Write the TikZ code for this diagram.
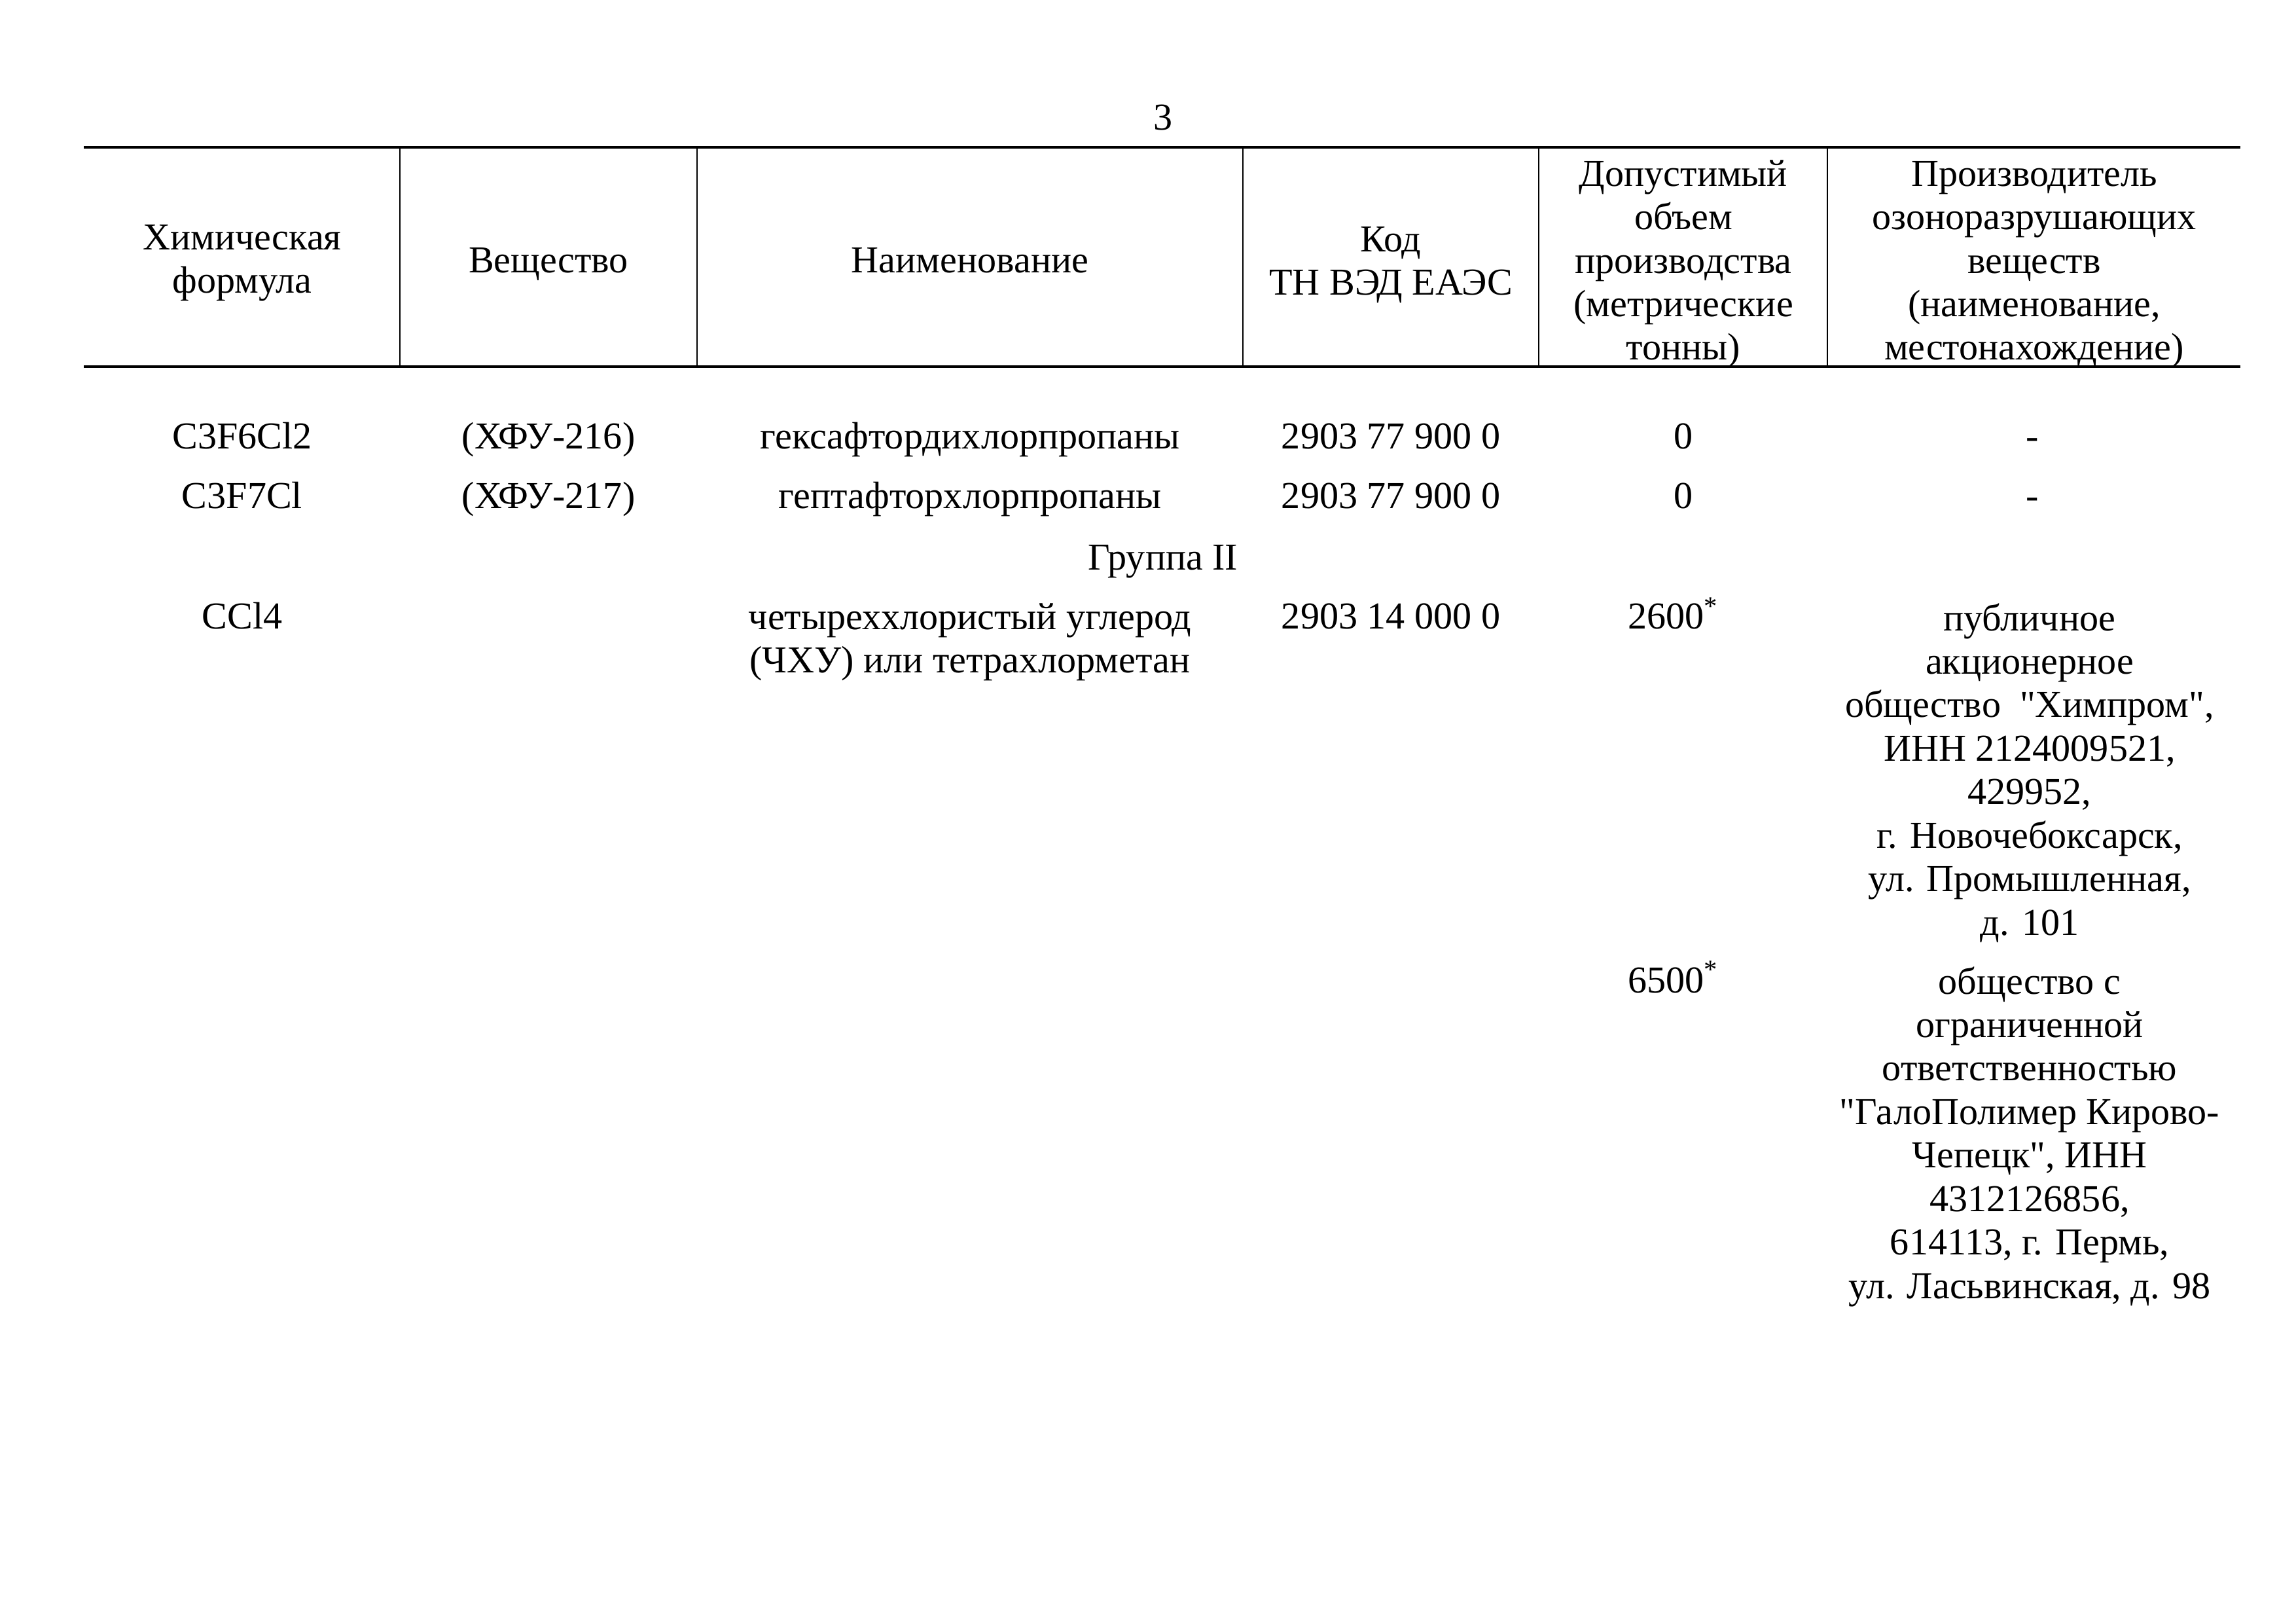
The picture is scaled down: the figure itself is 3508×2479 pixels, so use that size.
\documentclass[tikz,border=0pt]{standalone}
\usepackage{fontspec}
\setmainfont{Liberation Serif}[Ligatures=TeXOff]
\tikzstyle{cell} = [inner sep=0pt, anchor=base, align=center,
    font=\fontsize{14pt}{16pt}\selectfont]
\tikzstyle{rule} = [line width=0.8pt]
\tikzstyle{sep} = [line width=0.5pt]

\begin{document}
\begin{tikzpicture}[x=0.084667mm,y=-0.084667mm]
  \useasboundingbox (0,0) rectangle (3508,2479);

  \node[cell] (page) at (1777,199) {3};

  % table head (multi-line cells sit on the baseline of their last line)
  \draw[rule] (128,225) -- (3423,225);
  \draw[rule] (128,560) -- (3423,560);
  \foreach \x in {611,1065,1899,2351,2792}
    \draw[sep] (\x,225) -- (\x,560);

  \node[cell] (hform) at (370,448) {Химическая\\формула};
  \node[cell] (hsub) at (838,417) {Вещество};
  \node[cell] (hname) at (1482,417) {Наименование};
  \node[cell] (hcode) at (2125,451) {Код\\ТН ВЭД ЕАЭС};
  \node[cell] (hvol) at (2572,550) {Допустимый\\объем\\производства\\(метрические\\тонны)};
  \node[cell] (hprod) at (3108,550) {Производитель\\озоноразрушающих\\веществ\\(наименование,\\местонахождение)};

  % rows
  \node[cell] (f1) at (370,686) {C3F6Cl2};
  \node[cell] (s1) at (838,686) {(ХФУ-216)};
  \node[cell] (n1) at (1482,686) {гексафтордихлорпропаны};
  \node[cell] (k1) at (2125,686) {2903 77 900 0};
  \node[cell] (v1) at (2572,686) {0};
  \node[cell] (p1) at (3105,686) {-};

  \node[cell] (f2) at (370,777) {C3F7Cl};
  \node[cell] (s2) at (838,777) {(ХФУ-217)};
  \node[cell] (n2) at (1482,777) {гептафторхлорпропаны};
  \node[cell] (k2) at (2125,777) {2903 77 900 0};
  \node[cell] (v2) at (2572,777) {0};
  \node[cell] (p2) at (3105,777) {-};

  \node[cell] (grp) at (1777,871) {Группа II};

  \node[cell] (f3) at (370,961) {CCl4};
  \node[cell] (n3) at (1482,1028) {четыреххлористый углерод\\(ЧХУ) или тетрахлорметан};
  \node[cell] (k3) at (2125,961) {2903 14 000 0};
  \node[cell] (v3) at (2557,961) {2600\textsuperscript{*}};
  \node[cell] (p3) at (3101,1428) {публичное\\акционерное\\общество~~"Химпром",\\ИНН 2124009521,\\429952,\\г. Новочебоксарск,\\ул. Промышленная,\\д. 101};

  \node[cell] (v4) at (2557,1516) {6500\textsuperscript{*}};
  \node[cell] (p4) at (3101,1983) {общество с\\ограниченной\\ответственностью\\"ГалоПолимер Кирово-\\Чепецк", ИНН\\4312126856,\\614113, г. Пермь,\\ул. Ласьвинская, д. 98};
\end{tikzpicture}
\end{document}
